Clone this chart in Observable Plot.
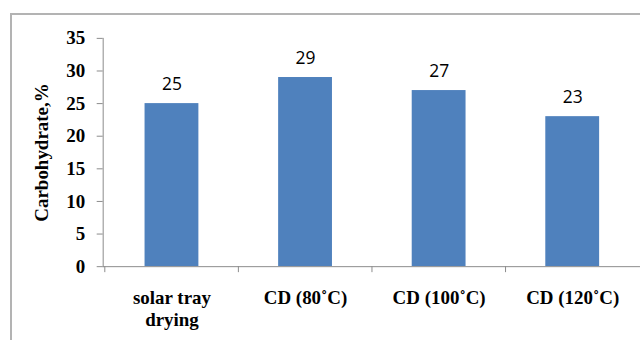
<!DOCTYPE html>
<html>
<head>
<meta charset="utf-8">
<script src="https://cdn.jsdelivr.net/npm/d3@7"></script>
<script src="https://cdn.jsdelivr.net/npm/@observablehq/plot@0.6"></script>
<style>
  html, body { margin: 0; padding: 0; background: #fff; }
  #wrap { position: relative; width: 640px; height: 340px; overflow: hidden; }
  #box {
    position: absolute; left: 10px; top: 13px; width: 700px; height: 400px;
    border-left: 2px solid #b3b3b3; border-top: 2px solid #b3b3b3;
    pointer-events: none;
  }
</style>
</head>
<body>
<div id="wrap"><div id="box"></div></div>
<script>
// Carbohydrate content by drying method
const categories = ["solar tray\ndrying", "CD (80˚C)", "CD (100˚C)", "CD (120˚C)"];
const carbohydrate = [25, 29, 27, 23];
const yTicks = [0, 5, 10, 15, 20, 25, 30, 35];
const yTitle = "Carbohydrate,%";

const rows = categories.map((c, i) => ({category: c, value: carbohydrate[i]}));

const W = 642, H = 340, ML = 103, MR = 0, MT = 38, MB = 73;
const step = (W - ML - MR) / categories.length;
const axisColor = "#8c8c8c";
const serif = "'Liberation Serif', 'Times New Roman', serif";

const chart = Plot.plot({
  width: W,
  height: H,
  marginLeft: ML,
  marginRight: MR,
  marginTop: MT,
  marginBottom: MB,
  style: {background: "transparent", overflow: "visible"},
  x: {domain: categories, paddingInner: 0.6, paddingOuter: 0.3, axis: null},
  y: {domain: [0, 35], axis: null},
  marks: [
    Plot.barY(rows, {x: "category", y: "value", fill: "#4f81bd"}),
    Plot.frame({anchor: "left", stroke: axisColor}),
    Plot.ruleY([0], {stroke: axisColor}),
    // category boundary ticks below the baseline
    Plot.ruleX(categories, {x: d => d, y1: 0, y2: 0, insetBottom: -6, dx: -step / 2, stroke: axisColor}),
    Plot.axisY({ticks: yTicks, tickSize: 6, text: null, label: null, stroke: axisColor}),
    Plot.axisY({
      ticks: yTicks, tickSize: 0, tickPadding: 18, label: null,
      fontSize: 19, fontWeight: "bold", fontFamily: serif, fill: "#000"
    }),
    Plot.axisX({
      tickSize: 0, tickPadding: 22, label: null, lineHeight: 1.16,
      fontSize: 19, fontWeight: "bold", fontFamily: serif, fill: "#000",
      style: {letterSpacing: "0.4px"}
    }),
    Plot.text([yTitle], {
      frameAnchor: "left", textAnchor: "middle", rotate: -90, dx: -61, text: d => d,
      fontSize: 19, fontWeight: "bold", fontFamily: serif, fill: "#000",
      style: {letterSpacing: "0.5px"}
    }),
    Plot.text(rows, {
      x: "category", y: "value", text: d => String(d.value), dy: -19,
      fontSize: 17.5, fontFamily: "'Open Sans', sans-serif", fill: "#000"
    })
  ]
});

document.getElementById("wrap").prepend(chart);
</script>
</body>
</html>
